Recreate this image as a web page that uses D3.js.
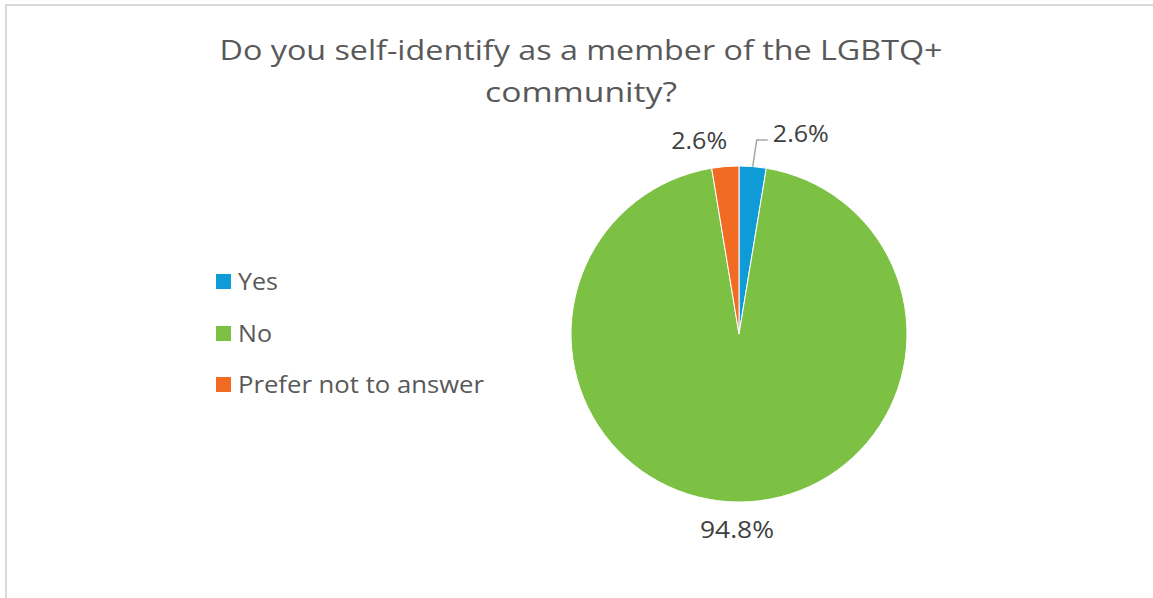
<!DOCTYPE html>
<html>
<head>
<meta charset="utf-8">
<script src="https://cdn.jsdelivr.net/npm/d3@7"></script>
<style>
  html, body { margin: 0; padding: 0; background: #fff; }
  svg { display: block; }
  text { font-family: "Open Sans", "Noto Sans", sans-serif; }
</style>
</head>
<body>
<svg id="chart" width="1153" height="598"></svg>
<script>
// Survey responses
const titleLines = ["Do you self-identify as a member of the LGBTQ+", "community?"];
const categories = ["Yes", "No", "Prefer not to answer"];
const values = [2.6, 94.8, 2.6];
const labels = ["2.6%", "94.8%", "2.6%"];
const colors = ["#0e9bd8", "#7cc143", "#f26b22"];

const svg = d3.select("#chart");

// chart frame
svg.append("path")
  .attr("d", "M6,598 V5 H1153")
  .attr("fill", "none")
  .attr("stroke", "#d9d9d9")
  .attr("stroke-width", 2);

// fit a text element to a target width while keeping its height
function fit(sel, w) {
  sel.attr("textLength", w).attr("lengthAdjust", "spacingAndGlyphs");
}

// title
const titleY = [60, 102];
const titleW = [723, 192];
titleLines.forEach((t, i) => {
  svg.append("text")
    .attr("x", 581).attr("y", titleY[i])
    .attr("text-anchor", "middle")
    .attr("font-size", 28)
    .attr("fill", "#595959")
    .text(t)
    .call(fit, titleW[i]);
});

// pie
const cx = 739, cy = 334, r = 168;
const pie = d3.pie().sort(null).value(d => d);
const arcs = pie(values);
const arc = d3.arc().innerRadius(0).outerRadius(r);
const g = svg.append("g").attr("transform", `translate(${cx},${cy})`);

g.selectAll("path.slice")
  .data(arcs)
  .enter().append("path")
  .attr("class", "slice")
  .attr("d", arc)
  .attr("fill", (d, i) => colors[i])
  .attr("stroke", "#fff")
  .attr("stroke-width", 1);

// data labels placed just outside the slices
const labelArc = d3.arc().innerRadius(r + 26).outerRadius(r + 26);
const labelW = [56, 74, 56];
const shift = [[46, -7], [-2, 2], [-24, 0]];
arcs.forEach((d, i) => {
  const [lx, ly] = labelArc.centroid(d);
  svg.append("text")
    .attr("x", cx + lx + shift[i][0])
    .attr("y", cy + ly + shift[i][1] + 8)
    .attr("text-anchor", "middle")
    .attr("font-size", 23)
    .attr("fill", "#404040")
    .text(labels[i])
    .call(fit, labelW[i]);
});

// leader line for the first slice label
{
  const d = arcs[0];
  const a = (d.startAngle + d.endAngle) / 2;
  const x0 = cx + Math.sin(a) * r, y0 = cy - Math.cos(a) * r;
  svg.append("polyline")
    .attr("points", `${x0},${y0} ${x0 + 4},${cy - r - 26} ${x0 + 15},${cy - r - 26}`)
    .attr("fill", "none")
    .attr("stroke", "#a6a6a6")
    .attr("stroke-width", 1.5);
}

// legend
const legendY = [282, 334, 385];
const legendW = [40, 34, 246];
categories.forEach((c, i) => {
  svg.append("rect")
    .attr("x", 216).attr("y", legendY[i] - 8)
    .attr("width", 15).attr("height", 15)
    .attr("fill", colors[i]);
  svg.append("text")
    .attr("x", 238).attr("y", legendY[i] + 8)
    .attr("font-size", 23)
    .attr("fill", "#595959")
    .text(c)
    .call(fit, legendW[i]);
});
</script>
</body>
</html>
